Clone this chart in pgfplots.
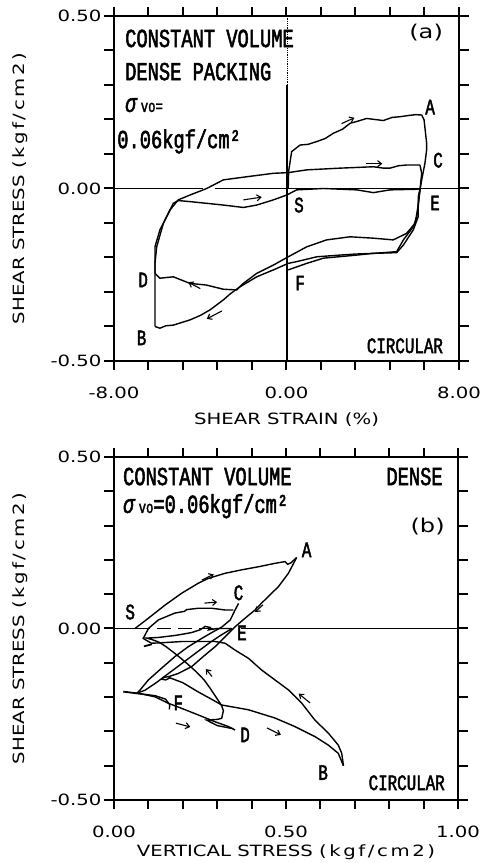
\documentclass[border=0pt]{standalone}
\usepackage{fontspec}
\usepackage{pgfplots}
\pgfplotsset{compat=1.18}
\usetikzlibrary{arrows.meta}
\newfontfamily\pf[FakeStretch=1.27]{DejaVu Sans}
\newfontfamily\tw[FakeStretch=0.72, FakeBold=2]{Liberation Mono}
\newcommand\pfs{\pf\fontsize{15.5}{18}\selectfont}
\newcommand\pfb{\pf\fontsize{19}{22}\selectfont}
\newcommand\twb{\tw\fontsize{26}{30}\selectfont}
\newcommand\twl{\tw\fontsize{22}{26}\selectfont}
\pgfplotscreateplotcyclelist{blk}{black,solid,mark=none,line width=1.4pt\\}
\pgfplotsset{
  panel/.style={
    scale only axis, width=345pt, height=345pt,
    axis line style={line width=1.8pt},
    xtick pos=both, ytick pos=both,
    tick align=outside,
    major tick length=9pt,
    every tick/.style={draw=black, line width=2pt},
    ymin=-0.5, ymax=0.5,
    ytick={-0.5,-0.4,-0.3,-0.2,-0.1,0,0.1,0.2,0.3,0.4,0.5},
    yticklabels={-0.50,,,,,0.00,,,,,0.50},
    ticklabel style={font=\pfs},
    xticklabel style={yshift=-13pt},
    label style={font=\pfs},
    ylabel={SHEAR STRESS (\,k\,g\,f\,/\,c\,m\,2\,)},
    ylabel style={at={(axis description cs:-0.272,0.5)}, anchor=center},
    cycle list name=blk,
    clip=false,
  },
  tk/.style={black, solid, mark=none, line width=2pt},
  arr/.style={line width=1.1pt, black, solid, mark=none, -{Straight Barb[length=4pt,width=6pt]}},
}
\begin{document}
\begin{tikzpicture}
\useasboundingbox (0,0) rectangle (484pt,863pt);
% ---------------- panel (a)
\begin{axis}[panel, at={(114pt,502pt)}, anchor=south west,
  xmin=-8, xmax=8,
  xtick={-8,-6.4,-4.8,-3.2,-1.6,0,1.6,3.2,4.8,6.4,8},
  xticklabels={-8.00,,,,,0.00,,,,,8.00},
  xlabel={SHEAR STRAIN (\%)},
  xlabel style={at={(axis description cs:0.5,-0.17)}, anchor=center}]
\pgfplotsinvokeforeach{-8,-6.4,-4.8,-3.2,-1.6,0,1.6,3.2,4.8,6.4,8}{
  \addplot[tk] coordinates {(#1,-0.5) (#1,-0.527)};
  \addplot[tk] coordinates {(#1,0.5) (#1,0.527)};
}
\pgfplotsinvokeforeach{-0.5,-0.4,-0.3,-0.2,-0.1,0,0.1,0.2,0.3,0.4,0.5}{
  \addplot[tk] coordinates {(-8,#1) (-8.45,#1)};
  \addplot[tk] coordinates {(8,#1) (8.45,#1)};
}
\addplot[black, line width=1.8pt] coordinates {(-8,0) (-3.86,0)};
\addplot[black, line width=1.8pt] coordinates {(-3.32,0) (8,0)};
\addplot[black, line width=1.8pt] coordinates {(0.02,-0.5) (0.02,0.30)};
\addplot[black, line width=0.8pt, densely dotted] coordinates {(0.02,0.30) (0.02,0.5)};
% S -> A -> B
\addplot coordinates {(0.08,0) (0.1,0.05) (0.24,0.107) (0.63,0.126) (1.0,0.128) (1.40,0.136) (1.8,0.145) (2.17,0.16) (2.6,0.172) (2.95,0.189) (3.3,0.195) (3.72,0.203) (4.1,0.200) (4.49,0.197) (4.9,0.206) (5.26,0.208) (5.7,0.212) (6.0,0.214) (6.27,0.213) (6.38,0.199) (6.50,0.131) (6.50,0.112) (6.42,0.073) (6.27,0.025) (6.19,-0.004) (6.11,-0.043) (6.04,-0.082) (5.88,-0.111) (5.42,-0.149) (5.11,-0.183) (4.5,-0.186) (4.03,-0.188) (3.2,-0.190) (2.48,-0.193) (1.40,-0.198) (0.47,-0.212) (0.08,-0.217) (-0.61,-0.236) (-1.38,-0.256) (-2.16,-0.285) (-2.6,-0.305) (-2.93,-0.323) (-3.55,-0.352) (-4.0,-0.368) (-4.48,-0.381) (-5.25,-0.396) (-5.6,-0.398) (-5.87,-0.405) (-6.10,-0.400)};
% B -> C
\addplot coordinates {(-6.10,-0.400) (-6.10,-0.265) (-6.10,-0.169) (-5.87,-0.120) (-5.40,-0.062) (-5.02,-0.033) (-4.48,-0.019) (-3.70,0.0) (-2.93,0.025) (-1.85,0.034) (-0.61,0.044) (0.08,0.046) (0.94,0.054) (2.48,0.059) (4.03,0.063) (4.50,0.059) (4.80,0.059) (5.20,0.066) (5.57,0.068) (6.19,0.068)};
% C -> D
\addplot coordinates {(6.19,0.068) (6.27,0.044) (6.19,-0.004) (6.11,-0.052) (5.96,-0.101) (5.57,-0.130) (4.95,-0.149) (4.03,-0.144) (2.95,-0.140) (1.86,-0.149) (0.94,-0.169) (0.08,-0.198) (-0.61,-0.222) (-1.38,-0.246) (-2.0,-0.275) (-2.31,-0.294) (-2.93,-0.292) (-3.70,-0.280) (-4.48,-0.275) (-5.25,-0.256) (-5.87,-0.260) (-6.10,-0.246)};
% D -> E
\addplot coordinates {(-6.10,-0.246) (-6.10,-0.217) (-6.02,-0.169) (-5.71,-0.101) (-5.25,-0.043) (-5.02,-0.035) (-4.48,-0.038) (-3.70,-0.043) (-2.93,-0.048) (-2.0,-0.055) (-1.38,-0.048) (-0.61,-0.033) (0.01,-0.019) (0.47,-0.004) (1.71,0.0) (3.26,-0.004) (4.03,-0.012) (4.80,-0.004) (6.19,-0.002)};
% E -> F
\addplot coordinates {(6.19,-0.002) (6.11,-0.024) (6.11,-0.082) (5.88,-0.120) (5.42,-0.164) (5.11,-0.186) (4.03,-0.188) (3.26,-0.193) (1.71,-0.202) (0.94,-0.217) (0.08,-0.236)};
% arrows
\addplot[arr] coordinates {(2.55,0.188) (3.15,0.205)};
\addplot[arr] coordinates {(3.7,0.072) (4.45,0.072)};
\addplot[arr] coordinates {(-2.0,-0.033) (-1.15,-0.025)};
\addplot[arr] coordinates {(-4.0,-0.29) (-4.55,-0.272)};
\addplot[arr] coordinates {(-3.0,-0.355) (-3.7,-0.378)};
% point labels
\node[font=\twl] at (axis cs:6.66,0.236) {A};
\node[font=\twl] at (axis cs:-6.72,-0.433) {B};
\node[font=\twl] at (axis cs:7.03,0.082) {C};
\node[font=\twl] at (axis cs:-6.65,-0.265) {D};
\node[font=\twl] at (axis cs:6.89,-0.042) {E};
\node[font=\twl] at (axis cs:0.63,-0.274) {F};
\node[font=\twl] at (axis cs:0.58,-0.048) {S};
% texts
\node[font=\twb, anchor=base west, inner sep=0pt] at (axis description cs:0.032,0.910) {CONSTANT VOLUME};
\node[font=\twb, anchor=base west, inner sep=0pt] at (axis description cs:0.032,0.814) {DENSE PACKING};
\node[font=\twb, anchor=base west, inner sep=0pt] at (axis description cs:0.032,0.722) {{\itshape σ}\,{\fontsize{17}{20}\selectfont vo=}};
\node[font=\twb, anchor=base west, inner sep=0pt] at (axis description cs:0.009,0.617) {0.06kgf/cm²};
\node[font=\pfb, anchor=base east, inner sep=0pt] at (axis description cs:0.954,0.936) {(a)};
\node[font=\twl, anchor=base east, inner sep=0pt] at (axis description cs:0.954,0.023) {CIRCULAR};
\end{axis}
% ---------------- panel (b)
\begin{axis}[panel, at={(114pt,63pt)}, anchor=south west,
  width=344pt, height=343pt,
  xmin=0, xmax=1,
  xtick={0,0.1,0.2,0.3,0.4,0.5,0.6,0.7,0.8,0.9,1},
  xticklabels={0.00,,,,,0.50,,,,,1.00},
  xlabel={VERTICAL STRESS (\,k\,g\,f\,/\,c\,m\,2\,)},
  xlabel style={at={(axis description cs:0.5,-0.153)}, anchor=center}]
\pgfplotsinvokeforeach{0,0.1,0.2,0.3,0.4,0.5,0.6,0.7,0.8,0.9,1}{
  \addplot[tk] coordinates {(#1,-0.5) (#1,-0.527)};
  \addplot[tk] coordinates {(#1,0.5) (#1,0.527)};
}
\pgfplotsinvokeforeach{-0.5,-0.4,-0.3,-0.2,-0.1,0,0.1,0.2,0.3,0.4,0.5}{
  \addplot[tk] coordinates {(0,#1) (-0.028,#1)};
  \addplot[tk] coordinates {(1,#1) (1.028,#1)};
}
\addplot[black, line width=1.8pt] coordinates {(0,0) (0.065,0)};
\addplot[black, line width=1.8pt, dash pattern=on 14pt off 7pt] coordinates {(0.065,0) (0.34,0)};
\addplot[black, line width=1.8pt] coordinates {(0.37,0) (1,0)};
% S -> A
\addplot coordinates {(0.061,0) (0.100,0.030) (0.148,0.068) (0.197,0.103) (0.245,0.132) (0.274,0.146) (0.323,0.161) (0.371,0.171) (0.420,0.180) (0.468,0.190) (0.497,0.195) (0.505,0.187) (0.515,0.192) (0.531,0.207)};
% A -> B
\addplot coordinates {(0.531,0.207) (0.507,0.161) (0.478,0.122) (0.429,0.074) (0.410,0.054) (0.381,0.030) (0.352,0.005) (0.323,-0.024) (0.294,-0.053) (0.265,-0.077) (0.226,-0.111) (0.187,-0.131) (0.160,-0.140) (0.143,-0.143) (0.140,-0.148) (0.150,-0.150) (0.163,-0.144) (0.200,-0.158) (0.245,-0.185) (0.285,-0.207) (0.313,-0.223) (0.391,-0.237) (0.468,-0.261) (0.526,-0.286) (0.584,-0.315) (0.623,-0.340) (0.652,-0.364) (0.667,-0.400)};
% B -> C
\addplot coordinates {(0.667,-0.400) (0.662,-0.364) (0.652,-0.340) (0.623,-0.305) (0.584,-0.267) (0.546,-0.218) (0.507,-0.179) (0.468,-0.150) (0.429,-0.121) (0.391,-0.087) (0.352,-0.063) (0.323,-0.043) (0.294,-0.038) (0.245,-0.038) (0.197,-0.038) (0.148,-0.041) (0.109,-0.043) (0.095,-0.035) (0.085,-0.029) (0.100,0.000) (0.129,0.025) (0.177,0.045) (0.205,0.050) (0.211,0.055) (0.245,0.059) (0.284,0.059) (0.323,0.054) (0.347,0.054)};
% C -> D
\addplot coordinates {(0.362,0.073) (0.352,0.054) (0.338,0.025) (0.313,0.004) (0.284,-0.012) (0.255,-0.029) (0.216,-0.053) (0.177,-0.082) (0.138,-0.116) (0.100,-0.150) (0.076,-0.179) (0.066,-0.189) (0.080,-0.191) (0.119,-0.199) (0.158,-0.218) (0.197,-0.233) (0.245,-0.252) (0.294,-0.272) (0.333,-0.286) (0.352,-0.296) (0.345,-0.292)};
% D -> E
\addplot coordinates {(0.345,-0.292) (0.300,-0.283) (0.269,-0.267) (0.300,-0.265) (0.313,-0.262) (0.318,-0.240) (0.313,-0.225) (0.300,-0.205) (0.280,-0.175) (0.262,-0.150) (0.240,-0.127) (0.210,-0.100) (0.180,-0.075) (0.150,-0.052) (0.131,-0.040) (0.110,-0.032) (0.095,-0.028) (0.130,-0.026) (0.180,-0.020) (0.225,-0.012) (0.250,-0.004) (0.265,0.006) (0.280,0.003) (0.275,-0.004) (0.300,0.0) (0.343,0.0)};
% E -> F
\addplot coordinates {(0.343,0.0) (0.310,-0.020) (0.280,-0.040) (0.240,-0.070) (0.200,-0.100) (0.160,-0.130) (0.120,-0.160) (0.090,-0.180) (0.066,-0.189) (0.090,-0.192) (0.120,-0.196) (0.150,-0.206) (0.162,-0.222) (0.161,-0.236)};
\addplot[black, line width=1.8pt] coordinates {(0.027,-0.184) (0.066,-0.189)};
\addplot[black, line width=1.8pt] coordinates {(0.087,-0.052) (0.110,-0.046)};
% arrows
\addplot[arr] coordinates {(0.255,0.141) (0.290,0.158)};
\addplot[arr] coordinates {(0.263,0.074) (0.300,0.077)};
\addplot[arr] coordinates {(0.433,0.069) (0.410,0.048)};
\addplot[arr] coordinates {(0.285,-0.140) (0.267,-0.118)};
\addplot[arr] coordinates {(0.570,-0.217) (0.537,-0.190)};
\addplot[arr] coordinates {(0.180,-0.276) (0.222,-0.287)};
\addplot[arr] coordinates {(0.445,-0.290) (0.485,-0.310)};
% point labels
\node[font=\twl] at (axis cs:0.56,0.229) {A};
\node[font=\twl] at (axis cs:0.608,-0.42) {B};
\node[font=\twl] at (axis cs:0.362,0.104) {C};
\node[font=\twl] at (axis cs:0.381,-0.31) {D};
\node[font=\twl] at (axis cs:0.372,-0.013) {E};
\node[font=\twl] at (axis cs:0.187,-0.217) {F};
\node[font=\twl] at (axis cs:0.047,0.048) {S};
% texts
\node[font=\twb, anchor=base west, inner sep=0pt] at (axis description cs:0.026,0.918) {CONSTANT VOLUME};
\node[font=\twb, anchor=base west, inner sep=0pt] at (axis description cs:0.026,0.837) {{\itshape σ}\,{\fontsize{17}{20}\selectfont vo}=0.06kgf/cm²};
\node[font=\twb, anchor=base east, inner sep=0pt] at (axis description cs:0.956,0.918) {DENSE};
\node[font=\pfb, anchor=base east, inner sep=0pt] at (axis description cs:0.962,0.781) {(b)};
\node[font=\twl, anchor=base east, inner sep=0pt] at (axis description cs:0.962,0.029) {CIRCULAR};
\end{axis}
\end{tikzpicture}
\end{document}
